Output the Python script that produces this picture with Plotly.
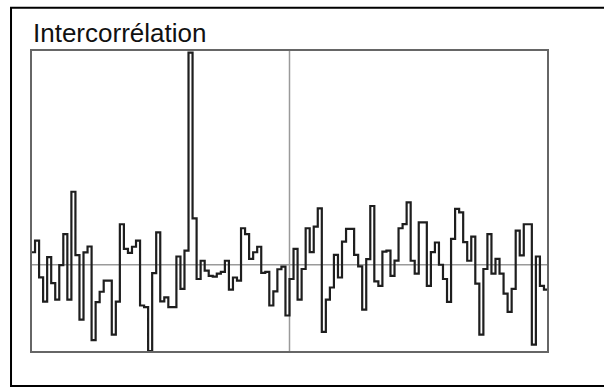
import plotly.graph_objects as go

# Cross-correlation values (lags -64 .. 63)
lags = list(range(-64, 64))
corr = [
    0.059, 0.114, -0.059, -0.174, 0.036, -0.086, -0.164, -0.002,
    0.144, -0.164, 0.344, 0.045, -0.258, 0.058, 0.086, -0.355,
    -0.176, -0.127, -0.075, -0.075, -0.329, -0.174, 0.191, 0.075,
    0.056, 0.085, 0.114, -0.192, -0.200, -0.407, -0.039, 0.153,
    -0.172, -0.154, -0.200, -0.200, 0.039, -0.114, 0.067, 1.000,
    0.219, -0.067, 0.019, -0.028, -0.052, -0.056, -0.042, -0.033,
    0.019, -0.117, -0.060, -0.075, 0.172, 0.144, 0.028, 0.059,
    0.085, -0.038, -0.033, -0.192, -0.125, -0.021, -0.009, -0.239,
    -0.067, 0.075, -0.164, -0.020, 0.172, 0.060, 0.180, 0.266,
    -0.316, -0.164, -0.107, 0.047, -0.060, 0.109, 0.169, 0.169,
    0.047, -0.008, -0.211, 0.027, 0.277, -0.078, -0.099, 0.062,
    0.067, -0.052, 0.020, 0.172, 0.192, 0.294, 0.019, -0.042,
    0.200, 0.200, -0.099, 0.060, 0.105, 0.000, -0.067, -0.175,
    0.122, 0.263, 0.247, 0.107, 0.019, 0.133, -0.089, -0.329,
    -0.020, 0.144, -0.042, 0.028, -0.042, -0.136, -0.222, -0.114,
    0.161, 0.044, 0.191, 0.191, -0.376, 0.039, -0.099, -0.117,
]
title_text = "Intercorrélation"

# step edges: each lag occupies [lag, lag+1)
xs = lags + [lags[-1] + 1]
ys = corr + [corr[-1]]

fig = go.Figure()
fig.add_trace(go.Scatter(x=xs, y=ys, mode="lines", line_shape="hv",
                         line=dict(color="#1e1e1e", width=2.2),
                         hoverinfo="skip", showlegend=False))

x0, x1 = lags[0], lags[-1] + 1
ymin, ymax = -0.411, 1.012

shapes = [
    # zero lines
    dict(type="line", xref="x", yref="y", x0=x0, x1=x1, y0=0, y1=0,
         line=dict(color="#9a9a9a", width=1.5), layer="below"),
    dict(type="line", xref="x", yref="y", x0=0, x1=0, y0=ymin, y1=ymax,
         line=dict(color="#9a9a9a", width=1.5), layer="below"),
    # plot frame
    dict(type="rect", xref="paper", yref="paper", x0=0, x1=1, y0=0, y1=1,
         line=dict(color="#666666", width=2)),
    # outer frame
    dict(type="rect", xref="paper", yref="paper",
         x0=(11 - 31) / 517.5, x1=(612 - 31) / 517.5,
         y0=(352.5 - 386.7) / 303, y1=(352.5 - 7) / 303,
         line=dict(color="#000000", width=2)),
]

fig.update_layout(
    width=604, height=389,
    margin=dict(l=31, r=55.5, t=49.5, b=36.5),
    paper_bgcolor="white", plot_bgcolor="white",
    xaxis=dict(range=[x0, x1], visible=False, fixedrange=True),
    yaxis=dict(range=[ymin, ymax], visible=False, fixedrange=True),
    shapes=shapes,
    annotations=[dict(text=title_text, xref="paper", yref="paper",
                      x=0, y=1.0, xanchor="left", yanchor="bottom",
                      showarrow=False,
                      font=dict(family="Liberation Sans, Arial", size=26,
                                color="#111111"))],
)

fig.write_html("out.html")
